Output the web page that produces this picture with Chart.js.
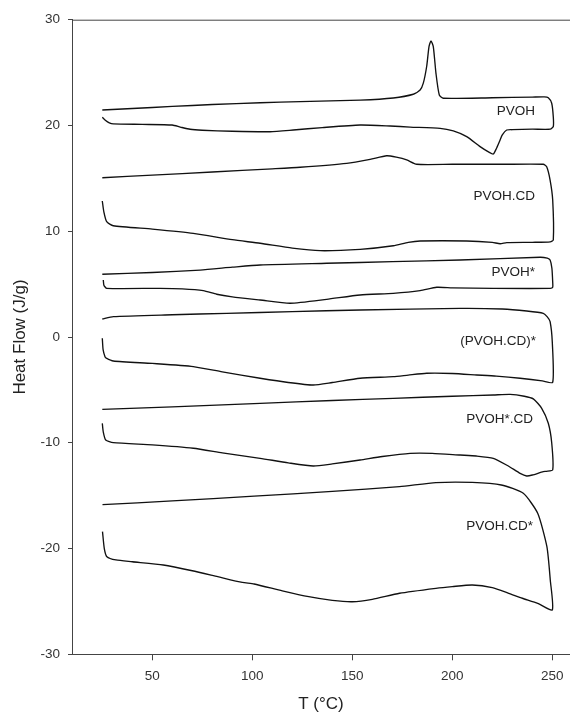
<!DOCTYPE html>
<html>
<head>
<meta charset="utf-8">
<script src="https://cdn.jsdelivr.net/npm/chart.js@4.4.1/dist/chart.umd.min.js"></script>
<style>
  html, body { margin:0; padding:0; background:#fff; }
  canvas { display:block; }
</style>
</head>
<body>
<canvas id="dsc" width="570" height="715"></canvas>
<script>
// temperatures (ºC) and heat flow (J/g), one loop per sample: upper trace left→right, lower trace back
const PVOH_T  = [25, 40, 60, 80, 104, 124, 154, 170.5, 180.5, 183.9, 185.5, 187.2, 188.35, 189.35, 190.5, 191.85, 193.5, 195.5, 220, 240, 246, 248, 249.7, 250.5, 250.5, 249, 240, 230, 227.2, 225, 223.9, 222, 220.5, 218.5, 213.9, 207.2, 200.5, 193.9, 178.9, 168.9, 153.9, 135, 120.5, 108.9, 90, 75, 68.9, 64, 59.9, 45, 30.5, 28.5, 26.5, 25];
const PVOH_HF = [21.46, 21.6, 21.8, 21.98, 22.15, 22.25, 22.4, 22.6, 22.95, 23.35, 24.0, 25.6, 27.45, 28.0, 27.45, 24.9, 22.88, 22.57, 22.62, 22.68, 22.7, 22.62, 22.1, 20.8, 19.9, 19.65, 19.65, 19.6, 19.57, 19.1, 18.63, 17.8, 17.3, 17.45, 18.0, 18.94, 19.48, 19.73, 19.85, 19.95, 20.04, 19.8, 19.57, 19.41, 19.45, 19.55, 19.64, 19.85, 20.04, 20.1, 20.15, 20.25, 20.5, 20.77];

const PVOHCD_T  = [25, 50, 80, 110, 123.9, 147.2, 158.9, 167.2, 172, 177.2, 182.2, 200, 225, 245.5, 247.2, 248.9, 250.2, 250.5, 249, 240, 227.2, 223.9, 220, 207.2, 183.9, 178, 170.5, 153.9, 133.9, 120, 103.9, 90, 70.5, 50, 30.5, 27.2, 25.8, 25];
const PVOHCD_HF = [15.06, 15.3, 15.6, 15.9, 16.05, 16.42, 16.8, 17.14, 17.0, 16.74, 16.33, 16.33, 16.33, 16.33, 16.1, 14.84, 12.95, 9.17, 9.0, 8.95, 8.92, 8.82, 8.95, 9.08, 9.08, 8.95, 8.63, 8.29, 8.16, 8.4, 8.86, 9.2, 9.8, 10.2, 10.52, 10.9, 11.8, 12.86];

const PVOHS_T  = [25, 50, 73.9, 90, 103.9, 137.2, 170, 203.9, 243.9, 247.5, 248.9, 249.8, 250.2, 250.2, 249, 220.5, 200, 192.2, 183.9, 170.5, 153.9, 137.2, 118.9, 103.9, 90, 82.2, 75.5, 65, 53.9, 27.2, 25.8, 25.5];
const PVOHS_HF = [5.93, 6.1, 6.33, 6.6, 6.81, 6.97, 7.12, 7.28, 7.54, 7.45, 7.28, 6.5, 5.2, 4.7, 4.6, 4.6, 4.65, 4.7, 4.38, 4.13, 3.97, 3.56, 3.19, 3.5, 3.8, 4.04, 4.38, 4.55, 4.6, 4.6, 4.9, 5.39];

const PVOHCDS_T  = [25, 30.5, 60, 87.2, 120, 153.9, 203.9, 225, 237.2, 245.5, 247.5, 248.9, 250, 250.2, 245, 233.9, 222, 212.2, 200, 187.2, 178, 170.5, 153.9, 140, 130.5, 118, 103.9, 85, 70.5, 50, 30.5, 27, 26.35, 25.4, 25];
const PVOHCDS_HF = [1.7, 1.92, 2.1, 2.24, 2.4, 2.55, 2.71, 2.65, 2.46, 2.24, 1.9, 1.45, -0.5, -4.28, -4.15, -3.9, -3.7, -3.59, -3.45, -3.43, -3.6, -3.75, -3.9, -4.3, -4.54, -4.3, -3.9, -3.3, -2.8, -2.5, -2.27, -2.0, -1.86, -1.2, -0.12];

const PVOHSCD_T  = [25, 60, 103.9, 140, 170.5, 200, 220.5, 228.9, 236, 240.5, 244.7, 248, 249.7, 250.2, 247, 245.5, 240, 237.2, 233.9, 228, 220.5, 212, 203.9, 190, 178.9, 165, 153.9, 140, 130.5, 118, 103.9, 85, 70.5, 50, 30.5, 26.7, 25.5, 25];
const PVOHSCD_HF = [-6.84, -6.6, -6.27, -6.0, -5.8, -5.6, -5.48, -5.42, -5.6, -5.85, -6.74, -8.16, -10.0, -12.57, -12.7, -12.73, -13.05, -13.14, -12.89, -12.2, -11.47, -11.25, -11.16, -11.0, -11.0, -11.3, -11.63, -12.0, -12.2, -11.9, -11.47, -10.95, -10.52, -10.2, -9.99, -9.74, -9.0, -8.16];

const PVOHCDS2_T  = [25.1, 60, 100.9, 140, 173.6, 191.8, 210, 224.5, 235.5, 242.7, 247.3, 249, 250, 242.7, 235, 228.2, 220, 210, 200, 191.8, 173.6, 160, 150, 140, 128.2, 115, 100.9, 95, 82.7, 70, 55.5, 40, 31.8, 27.3, 26, 25.1];
const PVOHCDS2_HF = [-15.85, -15.5, -15.05, -14.6, -14.15, -13.77, -13.75, -13.99, -14.78, -16.67, -19.83, -23.0, -25.8, -25.18, -24.7, -24.23, -23.7, -23.45, -23.6, -23.76, -24.23, -24.8, -25.03, -24.9, -24.55, -24.0, -23.35, -23.2, -22.66, -22.1, -21.56, -21.25, -21.08, -20.77, -20.0, -18.4];

const SAMPLES = ["PVOH", "PVOH.CD", "PVOH*", "(PVOH.CD)*", "PVOH*.CD", "PVOH.CD*"];
const X_TICKS = [50, 100, 150, 200, 250];
const Y_TICKS = [-30, -20, -10, 0, 10, 20, 30];

const SERIES = [
  [PVOH_T, PVOH_HF], [PVOHCD_T, PVOHCD_HF], [PVOHS_T, PVOHS_HF],
  [PVOHCDS_T, PVOHCDS_HF], [PVOHSCD_T, PVOHSCD_HF], [PVOHCDS2_T, PVOHCDS2_HF]
];

// where each sample name sits (right edge, vertical middle), in axis units
const LABEL_AT = [[241.3, 21.3], [241.3, 13.3], [241.3, 6.1], [241.8, -0.45], [240.3, -7.8], [240.3, -17.9]];

Chart.defaults.font.family = "'Liberation Sans', Arial, sans-serif";

const sampleLabels = {
  id: "sampleLabels",
  afterDatasetsDraw(chart) {
    const { ctx, scales: { x, y }, chartArea } = chart;
    ctx.save();
    ctx.font = "13.5px 'Liberation Sans', Arial, sans-serif";
    ctx.fillStyle = "#222";
    ctx.textAlign = "right";
    ctx.textBaseline = "middle";
    SAMPLES.forEach((name, i) => {
      ctx.fillText(name, x.getPixelForValue(LABEL_AT[i][0]), y.getPixelForValue(LABEL_AT[i][1]));
    });
    // top frame line
    ctx.strokeStyle = "#444";
    ctx.lineWidth = 1;
    ctx.beginPath();
    ctx.moveTo(chartArea.left, chartArea.top + 0.5);
    ctx.lineTo(chartArea.right, chartArea.top + 0.5);
    ctx.stroke();
    ctx.restore();
  }
};

new Chart(document.getElementById("dsc"), {
  type: "scatter",
  data: {
    datasets: SERIES.map(([t, hf], i) => ({
      label: SAMPLES[i],
      data: t.map((v, k) => ({ x: v, y: hf[k] })),
      showLine: true,
      borderColor: "#111",
      borderWidth: 1.35,
      pointRadius: 0,
      tension: 0.2,
      fill: false
    }))
  },
  options: {
    responsive: false,
    animation: false,
    layout: { padding: { top: 19.7, left: 0, right: 0, bottom: 0 } },
    plugins: { legend: { display: false }, tooltip: { enabled: false } },
    scales: {
      x: {
        type: "linear", min: 9.85, max: 258.85,
        afterBuildTicks: s => { s.ticks = X_TICKS.map(v => ({ value: v })); },
        afterFit: s => { s.height = 60.7; s.paddingLeft = 0; s.paddingRight = 0; },
        grid: { drawOnChartArea: false, drawTicks: true, tickLength: 6, color: "#444" },
        border: { display: true, color: "#444", width: 1 },
        ticks: { color: "#333", font: { size: 13.5 }, padding: 8 },
        title: { display: true, text: "T (°C)", color: "#222", font: { size: 17 }, padding: 0 }
      },
      y: {
        type: "linear", min: -30, max: 30,
        afterBuildTicks: s => { s.ticks = Y_TICKS.map(v => ({ value: v })); },
        afterFit: s => { s.width = 72; s.paddingTop = 0; s.paddingBottom = 0; },
        grid: { drawOnChartArea: false, drawTicks: true, tickLength: 4, color: "#444" },
        border: { display: true, color: "#444", width: 1 },
        ticks: { color: "#333", font: { size: 13.5 }, padding: 8 },
        title: { display: true, text: "Heat Flow (J/g)", color: "#222", font: { size: 17 }, padding: { top: 10, bottom: 0 } }
      }
    }
  },
  plugins: [sampleLabels]
});
</script>
</body>
</html>
